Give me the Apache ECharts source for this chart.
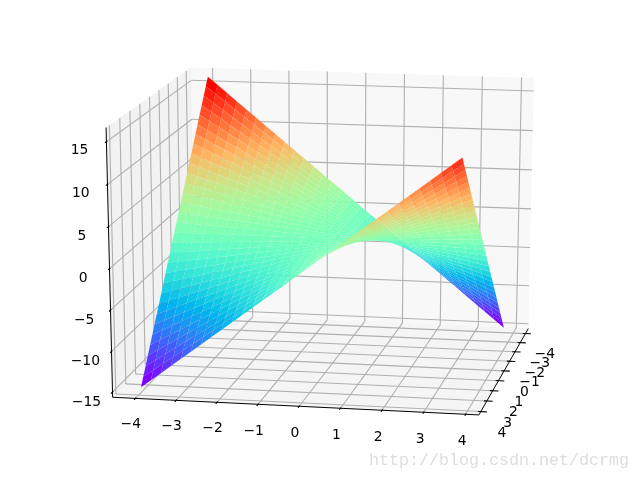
<!DOCTYPE html>
<html><head><meta charset="utf-8">
<style>html,body{margin:0;padding:0;background:#fff}#c{width:640px;height:480px}</style>
<script src="https://cdn.jsdelivr.net/npm/echarts@6/dist/echarts.min.js"></script>
</head><body><div id="c"></div>
<script>
// ---- data ----
const xValues = [-4,-3.75,-3.5,-3.25,-3,-2.75,-2.5,-2.25,-2,-1.75,-1.5,-1.25,-1,-0.75,-0.5,-0.25,0,0.25,0.5,0.75,1,1.25,1.5,1.75,2,2.25,2.5,2.75,3,3.25,3.5,3.75];
const yValues = [-4,-3.75,-3.5,-3.25,-3,-2.75,-2.5,-2.25,-2,-1.75,-1.5,-1.25,-1,-0.75,-0.5,-0.25,0,0.25,0.5,0.75,1,1.25,1.5,1.75,2,2.25,2.5,2.75,3,3.25,3.5,3.75];
// zValues[i][j] is the height at xValues[i], yValues[j]
const zValues = [
[16,15,14,13,12,11,10,9,8,7,6,5,4,3,2,1,0,-1,-2,-3,-4,-5,-6,-7,-8,-9,-10,-11,-12,-13,-14,-15],
[15,14.06,13.13,12.19,11.25,10.31,9.38,8.44,7.5,6.56,5.63,4.69,3.75,2.81,1.88,0.94,0,-0.94,-1.88,-2.81,-3.75,-4.69,-5.63,-6.56,-7.5,-8.44,-9.38,-10.31,-11.25,-12.19,-13.13,-14.06],
[14,13.13,12.25,11.38,10.5,9.63,8.75,7.88,7,6.13,5.25,4.38,3.5,2.63,1.75,0.88,0,-0.88,-1.75,-2.63,-3.5,-4.38,-5.25,-6.13,-7,-7.88,-8.75,-9.63,-10.5,-11.38,-12.25,-13.13],
[13,12.19,11.38,10.56,9.75,8.94,8.13,7.31,6.5,5.69,4.88,4.06,3.25,2.44,1.63,0.81,0,-0.81,-1.63,-2.44,-3.25,-4.06,-4.88,-5.69,-6.5,-7.31,-8.13,-8.94,-9.75,-10.56,-11.38,-12.19],
[12,11.25,10.5,9.75,9,8.25,7.5,6.75,6,5.25,4.5,3.75,3,2.25,1.5,0.75,0,-0.75,-1.5,-2.25,-3,-3.75,-4.5,-5.25,-6,-6.75,-7.5,-8.25,-9,-9.75,-10.5,-11.25],
[11,10.31,9.63,8.94,8.25,7.56,6.88,6.19,5.5,4.81,4.13,3.44,2.75,2.06,1.38,0.69,0,-0.69,-1.38,-2.06,-2.75,-3.44,-4.13,-4.81,-5.5,-6.19,-6.88,-7.56,-8.25,-8.94,-9.63,-10.31],
[10,9.38,8.75,8.13,7.5,6.88,6.25,5.63,5,4.38,3.75,3.13,2.5,1.88,1.25,0.63,0,-0.63,-1.25,-1.88,-2.5,-3.13,-3.75,-4.38,-5,-5.63,-6.25,-6.88,-7.5,-8.13,-8.75,-9.38],
[9,8.44,7.88,7.31,6.75,6.19,5.63,5.06,4.5,3.94,3.38,2.81,2.25,1.69,1.13,0.56,0,-0.56,-1.13,-1.69,-2.25,-2.81,-3.38,-3.94,-4.5,-5.06,-5.63,-6.19,-6.75,-7.31,-7.88,-8.44],
[8,7.5,7,6.5,6,5.5,5,4.5,4,3.5,3,2.5,2,1.5,1,0.5,0,-0.5,-1,-1.5,-2,-2.5,-3,-3.5,-4,-4.5,-5,-5.5,-6,-6.5,-7,-7.5],
[7,6.56,6.13,5.69,5.25,4.81,4.38,3.94,3.5,3.06,2.63,2.19,1.75,1.31,0.88,0.44,0,-0.44,-0.88,-1.31,-1.75,-2.19,-2.63,-3.06,-3.5,-3.94,-4.38,-4.81,-5.25,-5.69,-6.13,-6.56],
[6,5.63,5.25,4.88,4.5,4.13,3.75,3.38,3,2.63,2.25,1.88,1.5,1.13,0.75,0.38,0,-0.38,-0.75,-1.13,-1.5,-1.88,-2.25,-2.63,-3,-3.38,-3.75,-4.13,-4.5,-4.88,-5.25,-5.63],
[5,4.69,4.38,4.06,3.75,3.44,3.13,2.81,2.5,2.19,1.88,1.56,1.25,0.94,0.63,0.31,0,-0.31,-0.63,-0.94,-1.25,-1.56,-1.88,-2.19,-2.5,-2.81,-3.13,-3.44,-3.75,-4.06,-4.38,-4.69],
[4,3.75,3.5,3.25,3,2.75,2.5,2.25,2,1.75,1.5,1.25,1,0.75,0.5,0.25,0,-0.25,-0.5,-0.75,-1,-1.25,-1.5,-1.75,-2,-2.25,-2.5,-2.75,-3,-3.25,-3.5,-3.75],
[3,2.81,2.63,2.44,2.25,2.06,1.88,1.69,1.5,1.31,1.13,0.94,0.75,0.56,0.38,0.19,0,-0.19,-0.38,-0.56,-0.75,-0.94,-1.13,-1.31,-1.5,-1.69,-1.88,-2.06,-2.25,-2.44,-2.63,-2.81],
[2,1.88,1.75,1.63,1.5,1.38,1.25,1.13,1,0.88,0.75,0.63,0.5,0.38,0.25,0.13,0,-0.13,-0.25,-0.38,-0.5,-0.63,-0.75,-0.88,-1,-1.13,-1.25,-1.38,-1.5,-1.63,-1.75,-1.88],
[1,0.94,0.88,0.81,0.75,0.69,0.63,0.56,0.5,0.44,0.38,0.31,0.25,0.19,0.13,0.06,0,-0.06,-0.13,-0.19,-0.25,-0.31,-0.38,-0.44,-0.5,-0.56,-0.63,-0.69,-0.75,-0.81,-0.88,-0.94],
[0,0,0,0,0,0,0,0,0,0,0,0,0,0,0,0,0,0,0,0,0,0,0,0,0,0,0,0,0,0,0,0],
[-1,-0.94,-0.88,-0.81,-0.75,-0.69,-0.63,-0.56,-0.5,-0.44,-0.38,-0.31,-0.25,-0.19,-0.13,-0.06,0,0.06,0.13,0.19,0.25,0.31,0.38,0.44,0.5,0.56,0.63,0.69,0.75,0.81,0.88,0.94],
[-2,-1.88,-1.75,-1.63,-1.5,-1.38,-1.25,-1.13,-1,-0.88,-0.75,-0.63,-0.5,-0.38,-0.25,-0.13,0,0.13,0.25,0.38,0.5,0.63,0.75,0.88,1,1.13,1.25,1.38,1.5,1.63,1.75,1.88],
[-3,-2.81,-2.63,-2.44,-2.25,-2.06,-1.88,-1.69,-1.5,-1.31,-1.13,-0.94,-0.75,-0.56,-0.38,-0.19,0,0.19,0.38,0.56,0.75,0.94,1.13,1.31,1.5,1.69,1.88,2.06,2.25,2.44,2.63,2.81],
[-4,-3.75,-3.5,-3.25,-3,-2.75,-2.5,-2.25,-2,-1.75,-1.5,-1.25,-1,-0.75,-0.5,-0.25,0,0.25,0.5,0.75,1,1.25,1.5,1.75,2,2.25,2.5,2.75,3,3.25,3.5,3.75],
[-5,-4.69,-4.38,-4.06,-3.75,-3.44,-3.13,-2.81,-2.5,-2.19,-1.88,-1.56,-1.25,-0.94,-0.63,-0.31,0,0.31,0.63,0.94,1.25,1.56,1.88,2.19,2.5,2.81,3.13,3.44,3.75,4.06,4.38,4.69],
[-6,-5.63,-5.25,-4.88,-4.5,-4.13,-3.75,-3.38,-3,-2.63,-2.25,-1.88,-1.5,-1.13,-0.75,-0.38,0,0.38,0.75,1.13,1.5,1.88,2.25,2.63,3,3.38,3.75,4.13,4.5,4.88,5.25,5.63],
[-7,-6.56,-6.13,-5.69,-5.25,-4.81,-4.38,-3.94,-3.5,-3.06,-2.63,-2.19,-1.75,-1.31,-0.88,-0.44,0,0.44,0.88,1.31,1.75,2.19,2.63,3.06,3.5,3.94,4.38,4.81,5.25,5.69,6.13,6.56],
[-8,-7.5,-7,-6.5,-6,-5.5,-5,-4.5,-4,-3.5,-3,-2.5,-2,-1.5,-1,-0.5,0,0.5,1,1.5,2,2.5,3,3.5,4,4.5,5,5.5,6,6.5,7,7.5],
[-9,-8.44,-7.88,-7.31,-6.75,-6.19,-5.63,-5.06,-4.5,-3.94,-3.38,-2.81,-2.25,-1.69,-1.13,-0.56,0,0.56,1.13,1.69,2.25,2.81,3.38,3.94,4.5,5.06,5.63,6.19,6.75,7.31,7.88,8.44],
[-10,-9.38,-8.75,-8.13,-7.5,-6.88,-6.25,-5.63,-5,-4.38,-3.75,-3.13,-2.5,-1.88,-1.25,-0.63,0,0.63,1.25,1.88,2.5,3.13,3.75,4.38,5,5.63,6.25,6.88,7.5,8.13,8.75,9.38],
[-11,-10.31,-9.63,-8.94,-8.25,-7.56,-6.88,-6.19,-5.5,-4.81,-4.13,-3.44,-2.75,-2.06,-1.38,-0.69,0,0.69,1.38,2.06,2.75,3.44,4.13,4.81,5.5,6.19,6.88,7.56,8.25,8.94,9.63,10.31],
[-12,-11.25,-10.5,-9.75,-9,-8.25,-7.5,-6.75,-6,-5.25,-4.5,-3.75,-3,-2.25,-1.5,-0.75,0,0.75,1.5,2.25,3,3.75,4.5,5.25,6,6.75,7.5,8.25,9,9.75,10.5,11.25],
[-13,-12.19,-11.38,-10.56,-9.75,-8.94,-8.13,-7.31,-6.5,-5.69,-4.88,-4.06,-3.25,-2.44,-1.63,-0.81,0,0.81,1.63,2.44,3.25,4.06,4.88,5.69,6.5,7.31,8.13,8.94,9.75,10.56,11.38,12.19],
[-14,-13.13,-12.25,-11.38,-10.5,-9.63,-8.75,-7.88,-7,-6.13,-5.25,-4.38,-3.5,-2.63,-1.75,-0.88,0,0.88,1.75,2.63,3.5,4.38,5.25,6.13,7,7.88,8.75,9.63,10.5,11.38,12.25,13.13],
[-15,-14.06,-13.13,-12.19,-11.25,-10.31,-9.38,-8.44,-7.5,-6.56,-5.63,-4.69,-3.75,-2.81,-1.88,-0.94,0,0.94,1.88,2.81,3.75,4.69,5.63,6.56,7.5,8.44,9.38,10.31,11.25,12.19,13.13,14.06]
];
const xTicks = [-4,-3,-2,-1,0,1,2,3,4];
const yTicks = [-4,-3,-2,-1,0,1,2,3,4];
const zTicks = [-15,-10,-5,0,5,10,15];
const xLimits = [-4.3875,4.1375];
const yLimits = [-4.3875,4.1375];
const zLimits = [-15,16];
const watermark = 'http://blog.csdn.net/dcrmg';

// ---- 3D view ----
const elev = 16*Math.PI/180, azim = 10.7*Math.PI/180, dist = 10;
const n = [Math.cos(azim)*Math.cos(elev), Math.sin(azim)*Math.cos(elev), Math.sin(elev)];
const u = [-Math.sin(azim), Math.cos(azim), 0];
const v = [-Math.sin(elev)*Math.cos(azim), -Math.sin(elev)*Math.sin(azim), Math.cos(elev)];
const lims = [xLimits,yLimits,zLimits];
function norm(p){return p.map((c,i)=>(c-lims[i][0])/(lims[i][1]-lims[i][0])-0.5);}
function dot(a,b){return a[0]*b[0]+a[1]*b[1]+a[2]*b[2];}
function project(p){const d=norm(p),w=dist-dot(n,d);return [dot(u,d)/w,dot(v,d)/w];}
function depth(p){return dot(n,norm(p));}

// padded box, tick sizes, label offsets
const raw = lims.map(l=>(l[1]-l[0])/12);
const mins = lims.map((l,i)=>l[0]-raw[i]/4), maxs = lims.map((l,i)=>l[1]+raw[i]/4);
const deltas = raw;
const [x0,y0,z0] = mins, [x1,y1,z1] = maxs;
const labelPad = 0.72;
const labelDrop = 6;

const panes = [
 {pts:[[x0,y0,z0],[x0,y1,z0],[x0,y1,z1],[x0,y0,z1]],fill:'rgba(242,242,242,0.5)'},
 {pts:[[x0,y0,z0],[x1,y0,z0],[x1,y0,z1],[x0,y0,z1]],fill:'rgba(230,230,230,0.5)'},
 {pts:[[x0,y0,z0],[x1,y0,z0],[x1,y1,z0],[x0,y1,z0]],fill:'rgba(236,236,236,0.5)'}
];
const gridSegs=[], axisSegs=[], tickSegs=[], labels=[];
function seg(list,a,b){const p=project(a),q=project(b);list.push([p[0],p[1],q[0],q[1]]);}
function fmt(t){return t<0?'\u2212'+(-t):String(t);}
xTicks.forEach(t=>{
  seg(gridSegs,[t,y1,z0],[t,y0,z0]); seg(gridSegs,[t,y0,z0],[t,y0,z1]);
  seg(tickSegs,[t,y1-0.1*deltas[1],z0],[t,y1+0.2*deltas[1],z0]);
  const p=project([t,y1+labelPad*deltas[1],z0-labelPad*deltas[2]]);labels.push([p[0],p[1],fmt(t)]);
});
yTicks.forEach(t=>{
  seg(gridSegs,[x1,t,z0],[x0,t,z0]); seg(gridSegs,[x0,t,z0],[x0,t,z1]);
  seg(tickSegs,[x1-0.1*deltas[0],t,z0],[x1+0.2*deltas[0],t,z0]);
  const p=project([x1+labelPad*deltas[0],t,z0-labelPad*deltas[2]]);labels.push([p[0],p[1],fmt(t)]);
});
zTicks.forEach(t=>{
  seg(gridSegs,[x1,y0,t],[x0,y0,t]); seg(gridSegs,[x0,y0,t],[x0,y1,t]);
  seg(tickSegs,[x1-0.1*deltas[0],y0,t],[x1+0.2*deltas[0],y0,t]);
  const p=project([x1+labelPad*deltas[0],y0-labelPad*deltas[1],t]);labels.push([p[0],p[1],fmt(t)]);
});
seg(axisSegs,[x0,y1,z0],[x1,y1,z0]);
seg(axisSegs,[x1,y0,z0],[x1,y1,z0]);
seg(axisSegs,[x1,y0,z0],[x1,y0,z1]);

// surface cells, coloured by mean height, far cells first
function rainbow(t){
  const r=Math.min(1,Math.abs(2*t-0.5)),g=Math.sin(Math.PI*t),b=Math.cos(Math.PI*t/2);
  return 'rgb('+Math.round(r*255)+','+Math.round(g*255)+','+Math.round(Math.max(0,b)*255)+')';
}
const cells=[];
for(let i=0;i<xValues.length-1;i++)for(let j=0;j<yValues.length-1;j++){
  const c=[[i,j],[i+1,j],[i+1,j+1],[i,j+1]].map(q=>[xValues[q[0]],yValues[q[1]],zValues[q[0]][q[1]]]);
  cells.push({c,mean:c.reduce((s,p)=>s+p[2],0)/4,d:c.reduce((s,p)=>s+depth(p),0)/4});
}
const lo=Math.min(...cells.map(c=>c.mean)),hi=Math.max(...cells.map(c=>c.mean));
cells.sort((a,b)=>a.d-b.d);

function lineSeries(name,data,color,width,z){
  return {type:'custom',name,coordinateSystem:'cartesian2d',silent:true,clip:false,z,data,
    encode:{x:[0,2],y:[1,3]},
    renderItem:(p,api)=>{
      const a=api.coord([api.value(0),api.value(1)]),b=api.coord([api.value(2),api.value(3)]);
      return {type:'line',shape:{x1:a[0],y1:a[1],x2:b[0],y2:b[1]},style:{stroke:color,lineWidth:width,fill:null}};
    }};
}
function polySeries(name,polys,z){
  return {type:'custom',name,coordinateSystem:'cartesian2d',silent:true,clip:false,z,
    data:polys.map((q,i)=>[q.pts[0][0],q.pts[0][1],i]),
    renderItem:(p,api)=>{
      const q=polys[p.dataIndex];
      return {type:'polygon',shape:{points:q.pts.map(a=>api.coord(a))},style:{fill:q.fill,stroke:null,lineWidth:0}};
    }};
}
const option={
  animation:false,
  backgroundColor:'#ffffff',
  title:{text:watermark,left:364,top:447,textStyle:{fontFamily:'Liberation Mono',fontSize:16.67,fontWeight:'normal',color:'#dedede'}},
  grid:{left:0,right:0,top:0,bottom:0},
  xAxis:{type:'value',min:-0.095,max:0.09,show:false},
  yAxis:{type:'value',min:-0.095,max:0.09,show:false},
  series:[
    polySeries('panes',panes.map(q=>({pts:q.pts.map(project),fill:q.fill})),1),
    lineSeries('grid',gridSegs,'#b0b0b0',1.1,2),
    lineSeries('axes',axisSegs,'#000000',1,3),
    lineSeries('ticks',tickSegs,'#000000',1.1,3),
    {type:'custom',name:'tick labels',coordinateSystem:'cartesian2d',silent:true,clip:false,z:4,data:labels,
      encode:{x:0,y:1},
      renderItem:(p,api)=>{
        const a=api.coord([api.value(0),api.value(1)]);
        return {type:'text',x:a[0],y:a[1]+labelDrop,style:{text:labels[p.dataIndex][2],align:'center',verticalAlign:'middle',fontFamily:'DejaVu Sans',fontSize:13.9,fill:'#000'}};
      }},
    polySeries('surface',cells.map(c=>({pts:c.c.map(project),fill:rainbow((c.mean-lo)/(hi-lo))})),5)
  ]
};
echarts.init(document.getElementById('c'),null,{renderer:'canvas'}).setOption(option);
</script></body></html>
